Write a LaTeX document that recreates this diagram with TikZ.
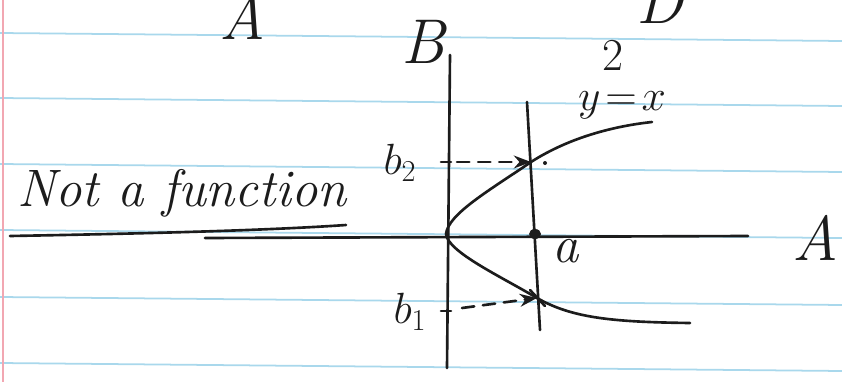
\documentclass[tikz,border=0pt]{standalone}
\usepackage{tikz}
\usetikzlibrary{arrows.meta}
\definecolor{rule}{HTML}{A9D8EC}
\definecolor{margin}{HTML}{F2A7B2}
\definecolor{ink}{HTML}{1C1C1C}

\begin{document}
\begin{tikzpicture}[x=0.02cm, y=-0.02cm, >={Stealth[]},
  pen/.style={draw=ink, line width=1.5pt, line cap=round},
  hand/.style={text=ink, font=\fontsize{30}{34}\selectfont\itshape, inner sep=0pt},
  big/.style={text=ink, font=\fontsize{36}{40}\selectfont\itshape, inner sep=0pt},
  small/.style={text=ink, font=\fontsize{26}{30}\selectfont, inner sep=0pt},
  guide/.style={pen, dash pattern=on 7pt off 5pt, ->}]
  \useasboundingbox (0,0) rectangle (842,382);
  \clip (0,0) rectangle (842,382);
  % paper
  \fill[white] (0,0) rectangle (842,382);
  \foreach \y in {33,98,164,230,297,363}
    \draw[rule, line width=1pt] (0,\y) -- (842,\y+8);
  \draw[margin, line width=0.8pt] (3,0) -- (3,382);
  % axes
  \coordinate (o) at (446,234);
  \draw[pen] (450,55) coordinate (btop) -- (447,368) coordinate (bbot);
  \draw[pen] (205,238) coordinate (aleft) -- (748,236) coordinate (aright);
  \node[big] (labB) at (423,42) {B};
  \node[big] (labA) at (815,238) {A};
  \node[big] (topA) at (242,17) {A};
  \node[big] (topD) at (660,2) {D};
  % vertical line through a
  \draw[pen] (527,102) coordinate (vtop) -- (540,330) coordinate (vbot);
  \coordinate (c2) at (531,162);
  \coordinate (c1) at (537,298);
  \fill[ink] (535,234) ellipse (6 and 5);
  \node[hand] (laba) at (566,251) {a};
  % y^2 = x
  \draw[pen] (o) .. controls (448,214) and (490,190) .. (c2)
    .. controls (570,137) and (615,126) .. (652,122);
  \draw[pen] (o) .. controls (448,252) and (500,276) .. (c1)
    .. controls (572,318) and (612,322) .. (690,323);
  \node[hand] (eq) at (622,105) {$y\!=\!x$};
  \node[small] (sq) at (613,55) {2};
  % b_2 and b_1
  \node[small] (b2) at (400,163) {$b_2$};
  \node[small] (b1) at (410,312) {$b_1$};
  \draw[pen] (441,162) -- (451,162);
  \draw[pen] (441,311) -- (451,311);
  \draw[guide] (457,162) -- (c2);
  \fill[ink] (545,163) circle (2);
  \draw[guide] (462,308) -- (c1);
  \draw[pen] (530,290) -- (545,306);
  % not a function
  \node[hand] (nf) at (182,193) {Not a function};
  \draw[pen] (10,236) .. controls (120,234) and (260,231) .. (346,225);
\end{tikzpicture}
\end{document}
